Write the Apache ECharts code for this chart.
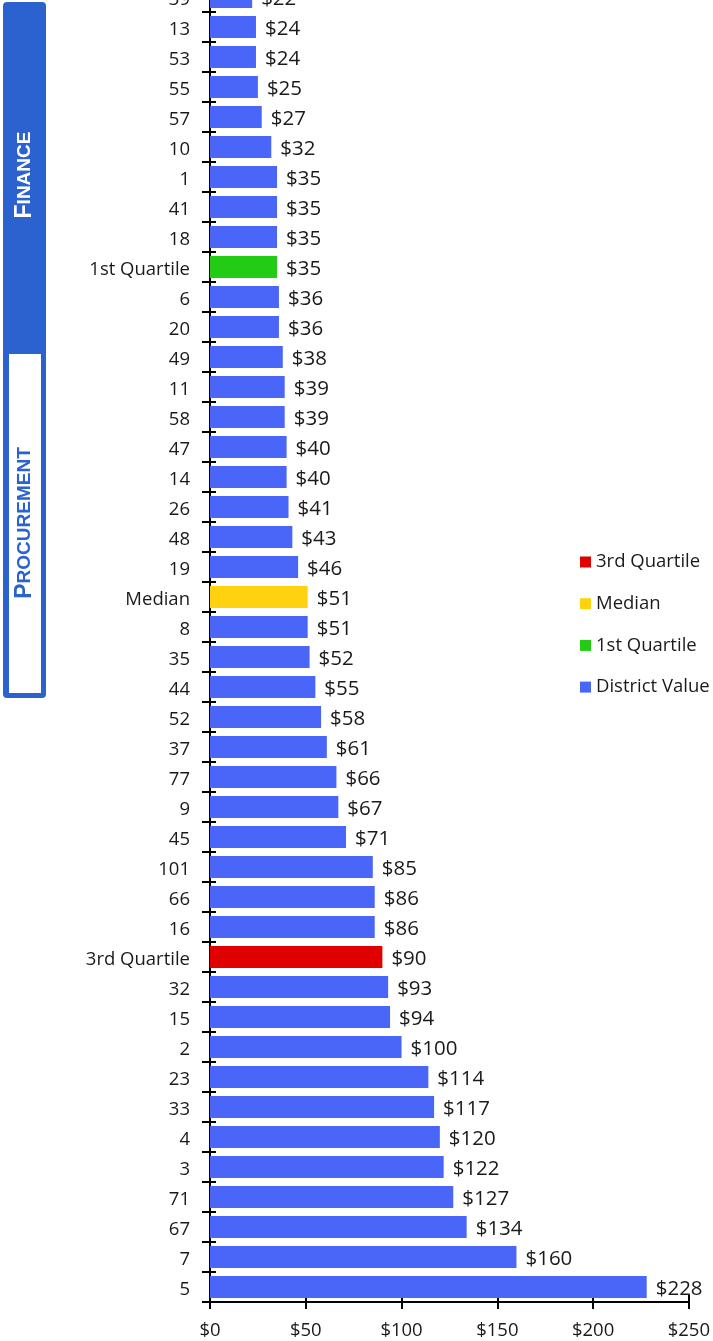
<!DOCTYPE html>
<html>
<head>
<meta charset="utf-8">
<script src="https://cdn.jsdelivr.net/npm/echarts@6/dist/echarts.min.js"></script>
<style>html,body{margin:0;padding:0;background:#fff;overflow:hidden;}#c{width:713px;height:1359px;margin-top:-18px;}</style>
</head>
<body>
<div id="c"></div>
<script>
const categories = ['39','13','53','55','57','10','1','41','18','1st Quartile','6','20','49','11','58','47','14','26','48','19','Median','8','35','44','52','37','77','9','45','101','66','16','3rd Quartile','32','15','2','23','33','4','3','71','67','7','5'];
const values = [22,24,24,25,27,32,35,35,35,35,36,36,38,39,39,40,40,41,43,46,51,51,52,55,58,61,66,67,71,85,86,86,90,93,94,100,114,117,120,122,127,134,160,228];
const xTicks = {min: 0, max: 250, interval: 50};
const seriesNames = ['3rd Quartile','Median','1st Quartile','District Value'];
const seriesColors = ['#E00000','#FFD20F','#22CC14','#4A66F8'];

const FONT = '"Open Sans", Lato, sans-serif';
const SHIFT = 18; // chart canvas starts 18px above the viewport
function pick(name){
  return values.map((v,i)=>{
    const c = categories[i];
    const isQ = (c === '3rd Quartile' || c === 'Median' || c === '1st Quartile');
    if (name === 'District Value') return isQ ? '-' : v;
    return c === name ? v : '-';
  });
}
const series = seriesNames.map((n,k)=>({
  name: n, type: 'bar', stack: 'all', yAxisIndex: 0, xAxisIndex: 0,
  barWidth: 22,
  itemStyle: {color: seriesColors[k]},
  label: {show: true, position: 'right', distance: 9, offset: [0, 2], formatter: p => '$' + p.value,
          fontFamily: FONT, fontSize: 20.5, color: '#1a1a1a'},
  data: pick(n)
}));

const chart = echarts.init(document.getElementById('c'), null, {renderer: 'canvas'});
chart.setOption({
  animation: false,
  grid: {left: 210, right: 24, top: 0, bottom: 39},
  legend: {
    orient: 'vertical', left: 575, top: 550 + SHIFT - 3, itemGap: 21.7,
    icon: 'rect', itemWidth: 11, itemHeight: 11,
    textStyle: {fontFamily: FONT, fontSize: 18.5, lineHeight: 20, color: '#1a1a1a'},
    data: seriesNames
  },
  xAxis: [{
    type: 'value', min: xTicks.min, max: xTicks.max, interval: xTicks.interval,
    splitLine: {show: false},
    axisLine: {show: true, lineStyle: {color: '#000', width: 2}},
    axisTick: {show: true, length: 7, lineStyle: {color: '#000', width: 2}},
    axisLabel: {formatter: v => '$' + v, fontFamily: FONT, fontSize: 18.5, color: '#1a1a1a', margin: 19}
  },{
    type: 'value', position: 'bottom', min: xTicks.min, max: xTicks.max, interval: xTicks.interval,
    splitLine: {show: false}, axisLine: {show: false}, axisLabel: {show: false},
    axisTick: {show: true, inside: true, length: 7, lineStyle: {color: '#000', width: 2}}
  }],
  yAxis: [{
    type: 'category', inverse: true, data: categories,
    axisLine: {show: true, lineStyle: {color: '#000', width: 2}},
    axisTick: {show: true, length: 8, lineStyle: {color: '#000', width: 2}},
    axisLabel: {margin: 20, formatter: v => '{a|' + v + '}',
      rich: {a: {fontFamily: FONT, fontSize: 18.5, color: '#1a1a1a', padding: [5, 0, 0, 0]}}}
  },{
    type: 'category', inverse: true, data: categories, position: 'left',
    axisLine: {show: false}, axisLabel: {show: false},
    axisTick: {show: true, inside: true, length: 6, lineStyle: {color: '#000', width: 2}}
  }],
  graphic: [
    {type: 'rect', shape: {x: 3, y: 2 + SHIFT, width: 43, height: 352, r: [4,4,0,0]}, style: {fill: '#2B62D0'}},
    {type: 'rect', shape: {x: 3, y: 353 + SHIFT, width: 43, height: 345, r: [0,0,4,4]}, style: {fill: '#2B62D0'}},
    {type: 'rect', shape: {x: 9, y: 354 + SHIFT, width: 32, height: 339}, style: {fill: '#ffffff'}},
    {type: 'text', x: 25, y: 175 + SHIFT, rotation: Math.PI/2,
     style: {text: '{a|F}{b|INANCE}', align: 'center', verticalAlign: 'middle',
       rich: {a: {fontSize: 23, fontWeight: 'bold', fill: '#fff', fontFamily: '"Liberation Sans", sans-serif'},
              b: {fontSize: 19, fontWeight: 'bold', fill: '#fff', fontFamily: '"Liberation Sans", sans-serif'}}}},
    {type: 'text', x: 25, y: 523 + SHIFT, rotation: Math.PI/2,
     style: {text: '{a|P}{b|ROCUREMENT}', align: 'center', verticalAlign: 'middle',
       rich: {a: {fontSize: 23, fontWeight: 'bold', fill: '#2B62D0', fontFamily: '"Liberation Sans", sans-serif'},
              b: {fontSize: 19, fontWeight: 'bold', fill: '#2B62D0', fontFamily: '"Liberation Sans", sans-serif'}}}}
  ],
  series: series
});
</script>
</body>
</html>
